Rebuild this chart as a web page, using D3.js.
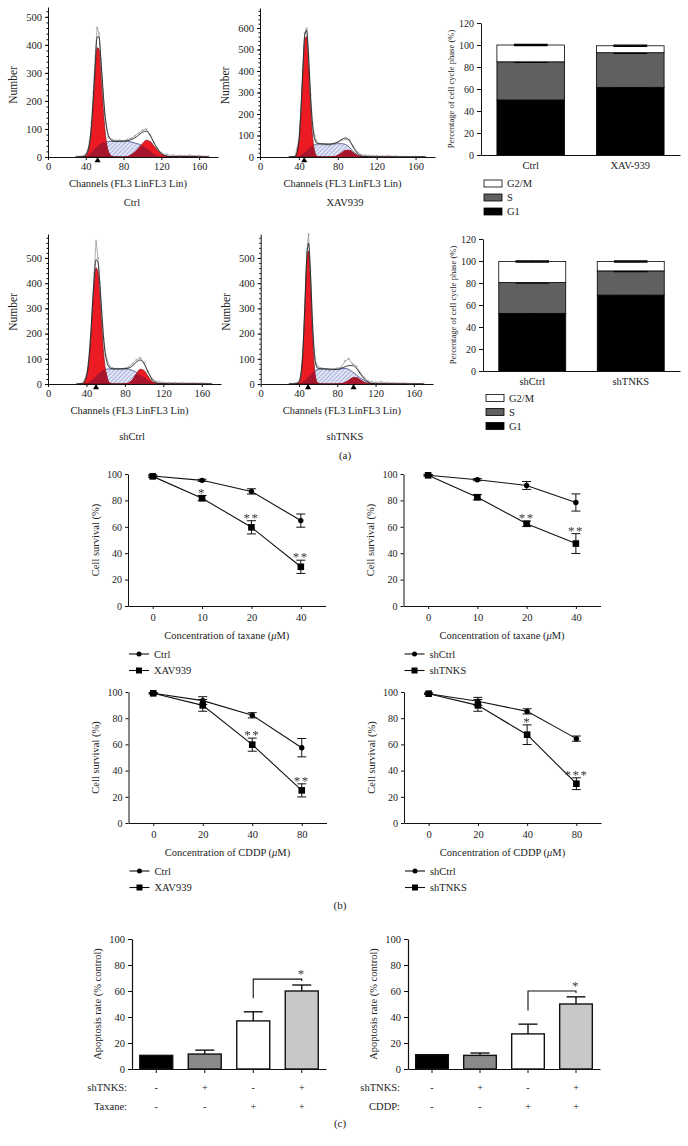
<!DOCTYPE html>
<html>
<head>
<meta charset="utf-8">
<script src="https://cdn.jsdelivr.net/npm/d3@7"></script>
<style>
body { margin: 0; background: #fff; }
svg { display: block; }
text { font-family: "Liberation Serif", "DejaVu Serif", serif; fill: #222; }
text.star { fill: #333; }
</style>
</head>
<body>
<script>
// ---- (a) flow cytometry histograms ----
var channels = [30,36,40,42,44,46,48,50,52,54,56,58,60,
  64,68,72,76,80,84,88,92,96,100,104,108,112,116,120,
  126,132,140,150,160,170];

var ctrlG1 = [0,0,5,15,40,95,190,300,390,385,300,200,110, 20,2,0,0,0,0,0,0,0,0,0,0,0,0,0, 0,0,0,0,0,0];
var ctrlS = [0,0,2,5,10,17,25,32,38,44,48,52,54, 56,56,56,56,57,56,54,50,46,40,32,22,12,5,1, 0,0,0,0,0,0];
var ctrlG2 = [0,0,0,0,0,0,0,0,0,0,0,0,0, 0,0,0,0,0,2,8,18,32,48,60,56,40,24,11, 3,0,0,0,0,0];
var ctrlFit = [0,0,7,20,50,112,215,332,428,429,348,252,164, 76,58,56,56,57,58,62,68,78,88,92,78,52,29,12, 3,1,1,1,0,0];
var ctrlRaw = [2,3,10,25,55,120,230,360,462,440,350,240,150, 70,62,58,60,55,62,66,75,85,95,100,80,52,30,15, 8,6,5,6,4,2];
var ctrlMarks = [52.5];

var xavG1 = [0,2,70,200,385,545,560,425,235,100,30,6,1, 0,0,0,0,0,0,0,0,0,0,0,0,0,0,0, 0,0,0,0,0,0];
var xavS = [0,0,4,8,15,22,30,38,45,52,57,60,61, 61,60,60,61,62,62,58,45,25,10,3,0,0,0,0, 0,0,0,0,0,0];
var xavG2 = [0,0,0,0,0,0,0,0,0,0,0,0,0, 0,0,0,2,8,20,31,31,20,8,2,0,0,0,0, 0,0,0,0,0,0];
var xavFit = [0,2,74,208,400,567,590,463,280,152,87,66,62, 61,60,60,63,70,82,89,76,45,18,5,2,1,1,1, 0,0,0,0,0,0];
var xavRaw = [1,3,80,215,410,575,598,470,290,160,100,75,62, 58,57,55,62,66,78,82,80,50,22,10,8,6,5,5, 4,5,3,2,2,1];
var xavMarks = [45.5];

var shCtrlG1 = [0,2,28,73,156,275,392,461,443,348,225,118,52, 5,0,0,0,0,0,0,0,0,0,0,0,0,0,0, 0,0,0,0,0,0];
var shCtrlS = [0,0,3,6,12,18,25,32,40,46,52,56,58, 60,60,60,60,60,58,54,46,36,26,16,8,3,1,0, 0,0,0,0,0,0];
var shCtrlG2 = [0,0,0,0,0,0,0,0,0,0,0,0,0, 0,0,0,0,1,5,18,41,59,54,32,12,3,0,0, 0,0,0,0,0,0];
var shCtrlFit = [0,2,31,79,168,293,417,493,483,394,277,174,110, 65,60,60,60,61,63,72,87,95,80,48,20,6,2,1, 0,0,0,0,0,0];
var shCtrlRaw = [1,3,35,85,175,300,440,567,500,400,285,180,115, 70,62,60,58,62,68,80,95,104,85,50,22,10,8,6, 5,5,4,4,3,2];
var shCtrlMarks = [50];

var shTnksG1 = [0,0,6,32,115,282,470,528,402,206,72,17,3, 0,0,0,0,0,0,0,0,0,0,0,0,0,0,0, 0,0,0,0,0,0];
var shTnksS = [0,0,2,5,10,16,23,30,37,44,50,55,58, 60,60,59,58,58,60,62,58,48,36,24,14,6,2,0, 0,0,0,0,0,0];
var shTnksG2 = [0,0,0,0,0,0,0,0,0,0,0,0,0, 0,0,0,0,0,2,6,15,25,26,17,7,2,0,0, 0,0,0,0,0,0];
var shTnksFit = [0,0,8,37,125,298,493,558,439,250,122,72,61, 60,60,59,58,58,62,68,73,73,62,41,21,8,2,1, 0,0,0,0,0,0];
var shTnksRaw = [1,3,10,40,130,310,520,594,450,260,130,80,68, 62,58,55,60,62,66,90,100,80,70,45,25,12,8,6, 8,5,4,3,2,1];
var shTnksMarks = [49.5, 97];

// ---- (a) cell cycle phase bars ----
var phaseKeys = ["G1", "S", "G2/M"];
var phaseColors = ["#000", "#606060", "#fff"];
var cycleCatsA = ["Ctrl", "XAV-939"];
var cycleG1A = [50, 61.5], cycleSA = [34.7, 31.5], cycleG2A = [15.3, 6.3];
var cycleCatsB = ["shCtrl", "shTNKS"];
var cycleG1B = [52.4, 69], cycleSB = [28, 22], cycleG2B = [19.2, 8.6];
var cycleErr = [0.6, 0.6];

// ---- (b) survival curves ----
var taxaneDoses = ["0", "10", "20", "40"];
var cddpDoses = ["0", "20", "40", "80"];
var ctrlTax = [98.5, 95.2, 86.8, 64.7], ctrlTaxErr = [0.8, 0.8, 2, 5];
var xavTax = [98.2, 81.7, 59.6, 29.7], xavTaxErr = [0.8, 2, 5, 5];
var xavTaxSig = ["", "*", "**", "**"];
var shCtrlTax = [99, 95.7, 91.3, 78.4], shCtrlTaxErr = [0.5, 0.8, 3, 6.5];
var shTnksTax = [99, 82.4, 62.3, 47.3], shTnksTaxErr = [0.5, 2, 2, 7.5];
var shTnksTaxSig = ["", "", "**", "**"];
var ctrlCddp = [99, 93.4, 82.2, 57.5], ctrlCddpErr = [0.5, 3, 2, 7];
var xavCddp = [99, 89.8, 59.8, 24.9], xavCddpErr = [0.5, 4.5, 5, 5];
var xavCddpSig = ["", "", "**", "**"];
var shCtrlCddp = [98.7, 92.9, 85.2, 64.4], shCtrlCddpErr = [0.5, 3, 2, 2];
var shTnksCddp = [98.7, 89.8, 67.4, 30], shTnksCddpErr = [0.5, 4.5, 7.5, 4.5];
var shTnksCddpSig = ["", "", "*", "***"];

// ---- (c) apoptosis ----
var shTnksRow = ["-", "+", "-", "+"];
var drugRow = ["-", "-", "+", "+"];
var apopColors = ["#000", "#8a8a8a", "#fff", "#c8c8c8"];
var apopTaxane = [10.5, 11.5, 37, 60], apopTaxaneErr = [0, 3, 7, 4.6];
var apopCddp = [11, 10.5, 27, 50], apopCddpErr = [0, 1.8, 7.5, 5.5];

var W = 688, H = 1146;
var svg = d3.select("body").append("svg").attr("width", W).attr("height", H);
svg.append("rect").attr("width", W).attr("height", H).attr("fill", "#fff");

var defs = svg.append("defs");
var pat = defs.append("pattern").attr("id", "hatch")
	.attr("patternUnits", "userSpaceOnUse").attr("width", 3).attr("height", 3)
	.attr("patternTransform", "rotate(45)");
pat.append("rect").attr("width", 3).attr("height", 3).attr("fill", "#e3e6f6");
pat.append("line").attr("x1", 0).attr("y1", 0).attr("x2", 0).attr("y2", 3)
	.attr("stroke", "#5462b4").attr("stroke-width", 0.8);
// plain pass-through filter, keeps the asterisks rendered in grey
var flat = defs.append("filter").attr("id", "flat");
flat.append("feColorMatrix").attr("type", "saturate").attr("values", 0);

// asterisk text drawn in a slightly rotated frame so it is greyscale-smoothed
function star(g, x, y, s) {
	return g.append("text").attr("class", "star").attr("x", x).attr("y", y)
		.attr("transform", "rotate(0.2," + x + "," + y + ")")
		.attr("filter", "url(#flat)")
		.attr("text-anchor", "middle").style("font-size", "13px").style("letter-spacing", "1.5px")
		.text(s);
}

function styleAxis(sel, size) {
	sel.select(".domain").attr("stroke", "#111");
	sel.selectAll(".tick line").attr("stroke", "#111");
	sel.selectAll("text").style("font-size", size + "px");
}

function histogram(o) {
	var x = d3.scaleLinear().domain([0, 180]).range([o.left, o.right]);
	var y = d3.scaleLinear().domain([0, o.ymax]).range([o.bottom, o.top]);
	var g = svg.append("g");
	var pts = function (arr) { return channels.map(function (c, i) { return [c, arr[i]]; }); };
	var overlap = function (a, b) { return a.map(function (v, i) { return Math.min(v, b[i]); }); };
	var area = d3.area().x(function (d) { return x(d[0]); }).y0(y(0))
		.y1(function (d) { return y(d[1]); }).curve(d3.curveMonotoneX);
	var smooth = d3.line().x(function (d) { return x(d[0]); })
		.y(function (d) { return y(d[1]); }).curve(d3.curveMonotoneX);
	var jagged = d3.line().x(function (d) { return x(d[0]); }).y(function (d) { return y(d[1]); });

	g.append("path").attr("d", area(pts(o.s))).attr("fill", "url(#hatch)");
	g.append("path").attr("d", smooth(pts(o.s))).attr("fill", "none")
		.attr("stroke", "#2b3478").attr("stroke-width", 0.7);
	[o.g1, o.g2].forEach(function (pk) {
		g.append("path").attr("d", area(pts(pk))).attr("fill", "#ec1b23")
			.attr("stroke", "#6a0b10").attr("stroke-width", 0.6);
		g.append("path").attr("d", area(pts(overlap(pk, o.s)))).attr("fill", "#a8162e");
	});
	g.append("path").attr("d", jagged(pts(o.raw))).attr("fill", "none")
		.attr("stroke", "#8c8c8c").attr("stroke-width", 0.7);
	g.selectAll(".rawpt").data(pts(o.raw)).enter().append("circle")
		.attr("cx", function (d) { return x(d[0]); }).attr("cy", function (d) { return y(d[1]); })
		.attr("r", 0.9).attr("fill", "none").attr("stroke", "#999").attr("stroke-width", 0.5);
	g.append("path").attr("d", smooth(pts(o.fit))).attr("fill", "none")
		.attr("stroke", "#111").attr("stroke-width", 0.8);

	var ya = g.append("g").attr("transform", "translate(" + o.left + ",0)")
		.call(d3.axisLeft(y).tickValues(d3.range(0, o.ymax, 100)).tickSize(3).tickSizeOuter(0));
	styleAxis(ya, 10.5);
	g.append("g").attr("transform", "translate(" + o.left + ",0)")
		.call(d3.axisLeft(y).tickValues(d3.range(20, o.ymax, 20)).tickSize(1.5).tickFormat("").tickSizeOuter(0))
		.select(".domain").remove();
	var xa = g.append("g").attr("transform", "translate(0," + o.bottom + ")")
		.call(d3.axisBottom(x).tickValues([0, 40, 80, 120, 160]).tickSize(3).tickSizeOuter(0));
	styleAxis(xa, 10.5);

	g.selectAll(".mark").data(o.marks).enter().append("path")
		.attr("d", d3.symbol(d3.symbolTriangle).size(16)())
		.attr("transform", function (d) { return "translate(" + x(d) + "," + (o.bottom + 3.5) + ")"; })
		.attr("fill", "#000");

	g.append("text").attr("transform", "translate(" + (o.left - 35) + "," + ((o.top + o.bottom) / 2 + 3) + ") rotate(-90)")
		.attr("text-anchor", "middle").attr("dy", "0.35em").style("font-size", "11.5px").text("Number");
	g.append("text").attr("x", (o.left + o.right) / 2 - 5).attr("y", o.bottom + 26).attr("dy", "0.35em")
		.attr("text-anchor", "middle").style("font-size", "10.5px").text("Channels (FL3 LinFL3 Lin)");
	g.append("text").attr("x", o.titleX).attr("y", o.titleY).attr("dy", "0.35em")
		.attr("text-anchor", "middle").style("font-size", "10.5px").text(o.title);
}

function cycleBars(o) {
	var x = d3.scaleBand().domain(o.cats).range([o.left, o.right]).paddingInner(0.32).paddingOuter(0.16);
	var y = d3.scaleLinear().domain([0, 120]).range([o.bottom, o.top]);
	var g = svg.append("g");
	var layers = [o.g1, o.s, o.g2];
	o.cats.forEach(function (c, i) {
		var base = 0;
		layers.forEach(function (arr, k) {
			var top = base + arr[i];
			g.append("rect").attr("x", x(c)).attr("width", x.bandwidth())
				.attr("y", y(top)).attr("height", y(base) - y(top))
				.attr("fill", phaseColors[k]).attr("stroke", "#000").attr("stroke-width", 0.8);
			var e = cycleErr[i], cx = x(c) + x.bandwidth() / 2, hw = x.bandwidth() * 0.25;
			g.append("line").attr("x1", cx).attr("x2", cx).attr("y1", y(top - e)).attr("y2", y(top + e))
				.attr("stroke", "#000").attr("stroke-width", 1);
			[top + e, top - e].forEach(function (v) {
				g.append("line").attr("x1", cx - hw).attr("x2", cx + hw).attr("y1", y(v)).attr("y2", y(v))
					.attr("stroke", "#000").attr("stroke-width", 1.2);
			});
			base = top;
		});
	});
	var ya = g.append("g").attr("transform", "translate(" + o.left + ",0)")
		.call(d3.axisLeft(y).tickValues(d3.range(0, 121, 20)).tickSize(4).tickSizeOuter(0));
	styleAxis(ya, 10);
	var xa = g.append("g").attr("transform", "translate(0," + o.bottom + ")")
		.call(d3.axisBottom(x).tickSize(0).tickPadding(7));
	styleAxis(xa, 10.5);
	g.append("text").attr("transform", "translate(" + (o.left - 30) + "," + ((o.top + o.bottom) / 2) + ") rotate(-90)")
		.attr("text-anchor", "middle").attr("dy", "0.35em").style("font-size", "8.6px")
		.text("Percentage of cell cycle phase (%)");
	phaseKeys.slice().reverse().forEach(function (k, j) {
		var idx = phaseKeys.indexOf(k), ly = o.legendY + j * 14;
		g.append("rect").attr("x", o.left + 3).attr("y", ly - 3.5).attr("width", 18).attr("height", 7)
			.attr("fill", phaseColors[idx]).attr("stroke", "#000").attr("stroke-width", 0.8);
		g.append("text").attr("x", o.left + 26).attr("y", ly).attr("dy", "0.35em")
			.style("font-size", "10.5px").text(k);
	});
}

function survival(o) {
	var x = d3.scalePoint().domain(o.doses).range([o.left, o.right]).padding(0.5);
	var y = d3.scaleLinear().domain([0, 100]).range([o.bottom, o.top]);
	var g = svg.append("g");
	var ya = g.append("g").attr("transform", "translate(" + o.left + ",0)")
		.call(d3.axisLeft(y).tickValues(d3.range(0, 101, 20)).tickSize(3).tickSizeOuter(0));
	styleAxis(ya, 10);
	var xa = g.append("g").attr("transform", "translate(0," + o.bottom + ")")
		.call(d3.axisBottom(x).tickSize(3).tickSizeOuter(0).tickPadding(5));
	styleAxis(xa, 10.5);

	var line = d3.line().x(function (d) { return x(d[0]); }).y(function (d) { return y(d[1]); });
	var series = [[o.ctrl, o.ctrlErr, "circle"], [o.trt, o.trtErr, "square"]];
	series.forEach(function (s) {
		var pts = o.doses.map(function (d, i) { return [d, s[0][i], s[1][i]]; });
		g.append("path").attr("d", line(pts)).attr("fill", "none").attr("stroke", "#111").attr("stroke-width", 1.1);
		pts.forEach(function (p) {
			var cx = x(p[0]);
			g.append("line").attr("x1", cx).attr("x2", cx).attr("y1", y(p[1] - p[2])).attr("y2", y(p[1] + p[2]))
				.attr("stroke", "#111").attr("stroke-width", 1);
			[p[1] - p[2], p[1] + p[2]].forEach(function (v) {
				g.append("line").attr("x1", cx - 4.5).attr("x2", cx + 4.5).attr("y1", y(v)).attr("y2", y(v))
					.attr("stroke", "#111").attr("stroke-width", 1);
			});
			if (s[2] === "circle") {
				g.append("circle").attr("cx", cx).attr("cy", y(p[1])).attr("r", 2.7).attr("fill", "#000");
			} else {
				g.append("rect").attr("x", cx - 3.3).attr("y", y(p[1]) - 3.3).attr("width", 6.6).attr("height", 6.6).attr("fill", "#000");
			}
		});
	});
	o.doses.forEach(function (d, i) {
		if (!o.sig[i]) return;
		star(g, x(d), y(o.trt[i] + o.trtErr[i]) + 1, o.sig[i]);
	});
	g.append("text").attr("transform", "translate(" + (o.left - 33) + "," + ((o.top + o.bottom) / 2) + ") rotate(-90)")
		.attr("text-anchor", "middle").attr("dy", "0.35em").style("font-size", "10.5px").text("Cell survival (%)");
	var xl = g.append("text").attr("x", (o.left + o.right) / 2).attr("y", o.bottom + 29).attr("dy", "0.35em")
		.attr("text-anchor", "middle").style("font-size", "10.5px");
	xl.append("tspan").text("Concentration of " + o.drug + " (");
	xl.append("tspan").style("font-style", "italic").text("\u03bc");
	xl.append("tspan").text("M)");
	o.names.forEach(function (n, j) {
		var ly = o.bottom + 48 + j * 16.5, lx = o.left + 1;
		g.append("line").attr("x1", lx).attr("x2", lx + 20).attr("y1", ly).attr("y2", ly)
			.attr("stroke", "#111").attr("stroke-width", 1.1);
		if (j === 0) g.append("circle").attr("cx", lx + 10).attr("cy", ly).attr("r", 2.5).attr("fill", "#000");
		else g.append("rect").attr("x", lx + 7).attr("y", ly - 3).attr("width", 6).attr("height", 6).attr("fill", "#000");
		g.append("text").attr("x", lx + 25).attr("y", ly).attr("dy", "0.35em").style("font-size", "10.5px").text(n);
	});
}

function apoptosis(o) {
	var idx = d3.range(o.vals.length);
	var x = d3.scaleBand().domain(idx).range([o.left, o.right]).paddingInner(0.32).paddingOuter(0.16);
	var y = d3.scaleLinear().domain([0, 100]).range([o.bottom, o.top]);
	var g = svg.append("g");
	var cxOf = function (i) { return x(i) + x.bandwidth() / 2; };
	g.selectAll(".bar").data(idx).enter().append("rect")
		.attr("x", function (i) { return x(i); }).attr("width", x.bandwidth())
		.attr("y", function (i) { return y(o.vals[i]); })
		.attr("height", function (i) { return y(0) - y(o.vals[i]); })
		.attr("fill", function (i) { return apopColors[i]; })
		.attr("stroke", "#111").attr("stroke-width", 1.4);
	idx.forEach(function (i) {
		if (!o.errs[i]) return;
		var cx = cxOf(i), t = o.vals[i] + o.errs[i];
		g.append("line").attr("x1", cx).attr("x2", cx).attr("y1", y(o.vals[i])).attr("y2", y(t))
			.attr("stroke", "#111").attr("stroke-width", 1.4);
		g.append("line").attr("x1", cx - 9.5).attr("x2", cx + 9.5).attr("y1", y(t)).attr("y2", y(t))
			.attr("stroke", "#111").attr("stroke-width", 1.4);
	});
	var ya = g.append("g").attr("transform", "translate(" + o.left + ",0)")
		.call(d3.axisLeft(y).tickValues(d3.range(0, 101, 20)).tickSize(4).tickSizeOuter(0));
	styleAxis(ya, 10.5);
	ya.select(".domain").attr("stroke-width", 1.2);
	var xa = g.append("g").attr("transform", "translate(0," + o.bottom + ")")
		.call(d3.axisBottom(x).tickSize(4).tickSizeOuter(0).tickFormat(""));
	styleAxis(xa, 10);
	xa.select(".domain").attr("stroke-width", 1.2);

	// significance bracket between the last two groups
	var a = 2, b = 3;
	var topV = Math.max(o.vals[a] + o.errs[a], o.vals[b] + o.errs[b]) + 4.5;
	var lowV = o.vals[a] + o.errs[a] + 10.5;
	g.append("path").attr("d", "M" + cxOf(a) + "," + y(lowV) + "V" + y(topV) + "H" + cxOf(b) + "V" + y(topV - 1.5))
		.attr("fill", "none").attr("stroke", "#111").attr("stroke-width", 1.1);
	star(g, cxOf(b), y(topV + 6) + 7, "*");

	g.append("text").attr("transform", "translate(" + (o.left - 35) + "," + ((o.top + o.bottom) / 2) + ") rotate(-90)")
		.attr("text-anchor", "middle").attr("dy", "0.35em").style("font-size", "10.5px").text("Apoptosis rate (% control)");
	[[o.rowNames[0], shTnksRow], [o.rowNames[1], drugRow]].forEach(function (r, j) {
		var ry = o.bottom + 18 + j * 19;
		g.append("text").attr("x", o.labelRight).attr("y", ry).attr("dy", "0.35em")
			.attr("text-anchor", "end").style("font-size", "10.5px").text(r[0]);
		idx.forEach(function (i) {
			g.append("text").attr("x", cxOf(i)).attr("y", ry).attr("dy", "0.35em")
				.attr("text-anchor", "middle").style("font-size", "10px").text(r[1][i]);
		});
	});
}

histogram({ left: 48, right: 218, top: 7, bottom: 157, ymax: 535, g1: ctrlG1, s: ctrlS, g2: ctrlG2,
	fit: ctrlFit, raw: ctrlRaw, marks: ctrlMarks, title: "Ctrl", titleX: 132, titleY: 202 });
histogram({ left: 260, right: 435, top: 8, bottom: 157, ymax: 693, g1: xavG1, s: xavS, g2: xavG2,
	fit: xavFit, raw: xavRaw, marks: xavMarks, title: "XAV939", titleX: 345, titleY: 202 });
histogram({ left: 48, right: 221, top: 234, bottom: 384, ymax: 595, g1: shCtrlG1, s: shCtrlS, g2: shCtrlG2,
	fit: shCtrlFit, raw: shCtrlRaw, marks: shCtrlMarks, title: "shCtrl", titleX: 132, titleY: 436 });
histogram({ left: 260.7, right: 433, top: 234, bottom: 384, ymax: 595, g1: shTnksG1, s: shTnksS, g2: shTnksG2,
	fit: shTnksFit, raw: shTnksRaw, marks: shTnksMarks, title: "shTNKS", titleX: 345, titleY: 436 });

cycleBars({ left: 481, right: 680, top: 23, bottom: 155, cats: cycleCatsA,
	g1: cycleG1A, s: cycleSA, g2: cycleG2A, legendY: 183.5 });
cycleBars({ left: 483, right: 680, top: 239, bottom: 371, cats: cycleCatsB,
	g1: cycleG1B, s: cycleSB, g2: cycleG2B, legendY: 398 });

survival({ left: 128, right: 325.5, top: 474, bottom: 606, doses: taxaneDoses, drug: "taxane",
	ctrl: ctrlTax, ctrlErr: ctrlTaxErr, trt: xavTax, trtErr: xavTaxErr, sig: xavTaxSig, names: ["Ctrl", "XAV939"] });
survival({ left: 403.5, right: 600.5, top: 474, bottom: 606, doses: taxaneDoses, drug: "taxane",
	ctrl: shCtrlTax, ctrlErr: shCtrlTaxErr, trt: shTnksTax, trtErr: shTnksTaxErr, sig: shTnksTaxSig, names: ["shCtrl", "shTNKS"] });
survival({ left: 128.5, right: 326.5, top: 692, bottom: 823, doses: cddpDoses, drug: "CDDP",
	ctrl: ctrlCddp, ctrlErr: ctrlCddpErr, trt: xavCddp, trtErr: xavCddpErr, sig: xavCddpSig, names: ["Ctrl", "XAV939"] });
survival({ left: 404, right: 601, top: 692, bottom: 823, doses: cddpDoses, drug: "CDDP",
	ctrl: shCtrlCddp, ctrlErr: shCtrlCddpErr, trt: shTnksCddp, trtErr: shTnksCddpErr, sig: shTnksCddpSig, names: ["shCtrl", "shTNKS"] });

apoptosis({ left: 132, right: 326, top: 939, bottom: 1069, vals: apopTaxane, errs: apopTaxaneErr,
	rowNames: ["shTNKS:", "Taxane:"], labelRight: 127 });
apoptosis({ left: 408, right: 600, top: 939, bottom: 1069, vals: apopCddp, errs: apopCddpErr,
	rowNames: ["shTNKS:", "CDDP:"], labelRight: 400 });

[["(a)", 345, 455], ["(b)", 340, 905], ["(c)", 340, 1123]].forEach(function (p) {
	svg.append("text").attr("x", p[1]).attr("y", p[2]).attr("dy", "0.35em")
		.attr("text-anchor", "middle").style("font-size", "11px").text(p[0]);
});
</script>
</body>
</html>
